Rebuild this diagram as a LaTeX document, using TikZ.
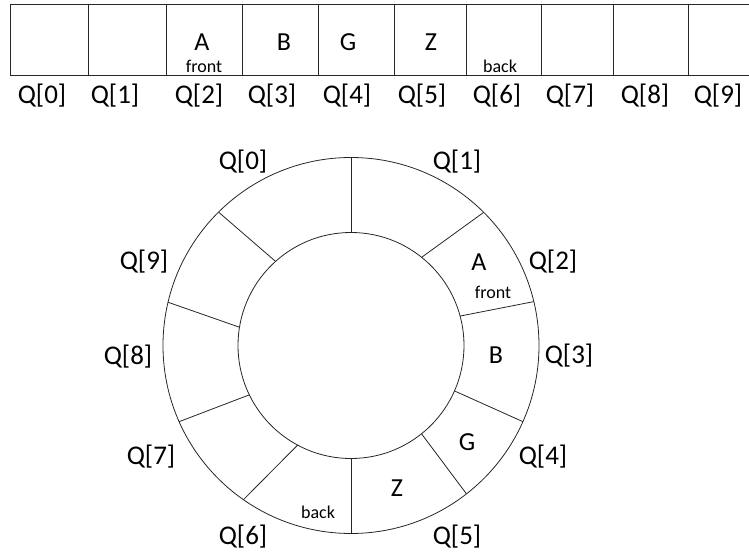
\documentclass[tikz,border=0pt]{standalone}
\usepackage{fontspec}
\setmainfont{Carlito}
\usetikzlibrary{positioning}

\begin{document}
\begin{tikzpicture}[
  x=1pt, y=1pt,
  idx/.style={font=\fontsize{27}{30}\selectfont, inner sep=0pt},
  item/.style={font=\fontsize{26}{30}\selectfont, inner sep=0pt},
  tag/.style={font=\fontsize{18}{20}\selectfont, inner sep=0pt},
  wall/.style={line width=0.8pt, draw=black!85},
]
\useasboundingbox (0,0) rectangle (749,554);

% Array
\draw[wall] (10,550) -- (749,550) (10,479) -- (749,479);
\foreach \x in {10,88,166,242,318,394,466,541,613,688}
  \draw[wall] (\x,550) -- (\x,479);

% Array contents
\node[item] (arrA) at (202,512) {A};
\node[tag] (arrfront) at (204,488) {front};
\node[item] (arrB) at (284,512) {B};
\node[item] (arrG) at (348,512) {G};
\node[item] (arrZ) at (431,512) {Z};
\node[tag] (arrback) at (500,488) {back};

% Array indices
\foreach \i/\x in {0/42,1/115,2/199,3/272,4/347,5/422,6/497,7/570,8/645,9/718}
  \node[idx] (arrq\i) at (\x,458) {Q[\i]};

% Ring
\coordinate (c) at (351,208.5);
\draw[wall] (c) circle[radius=188];
\draw[wall] (c) circle[radius=113];
\foreach \o/\n in {90/90,45.1/51.3,13.5/15.1,-23.9/-23.7,-52.1/-51.4,-90/-90,235.1/241.8,203.9/205.9,166.7/170.7,134.8/131.9}
  \draw[wall] ([shift={(c)}]\o:188) -- ([shift={(c)}]\n:113);

% Ring contents
\node[item] (ringA) at (479,292) {A};
\node[tag] (ringfront) at (493,262) {front};
\node[item] (ringB) at (496,199) {B};
\node[item] (ringG) at (467,112) {G};
\node[item] (ringZ) at (397,66) {Z};
\node[tag] (ringback) at (318,42) {back};

% Ring indices
\foreach \i/\x/\y in {0/243/392,1/457/392,2/553/292,3/569/198,4/543/97,5/457/17,6/243/17,7/151/97,8/128/197,9/144/292}
  \node[idx] (ringq\i) at (\x,\y) {Q[\i]};

\end{tikzpicture}
\end{document}
